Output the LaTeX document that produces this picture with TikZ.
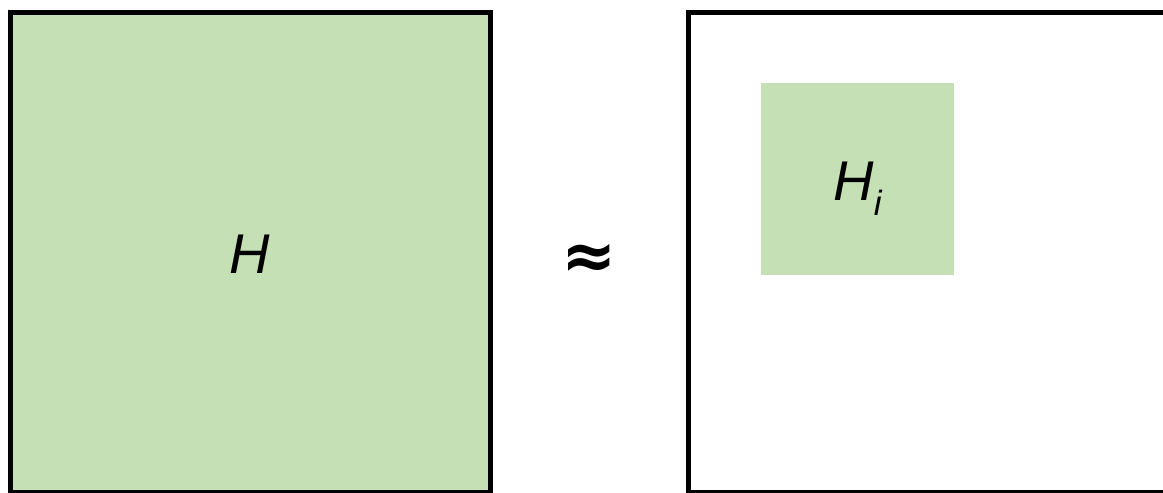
\documentclass[tikz,border=0pt]{standalone}
\usepackage{fontspec}
\setmainfont{Liberation Sans}
\newfontfamily\symfont{DejaVu Sans}
\definecolor{lightgreen}{HTML}{C5E0B4}
\begin{document}
\begin{tikzpicture}[x=1pt,y=-1pt,
  frame/.style={draw=black,line width=5pt,outer sep=0pt,inner sep=0pt,anchor=north west},
  lbl/.style={font=\fontsize{56}{60}\selectfont\itshape,inner sep=0pt,anchor=base}]
\useasboundingbox (0,0) rectangle (1163,493);
\clip (0,0) rectangle (1163,493);
\fill[white] (0,0) rectangle (1163,493);
\node[frame,fill=lightgreen,minimum width=480pt,minimum height=480pt] (big) at (10.5,12.5) {};
\node[lbl] (hlabel) at (250,273) {H};
\node[font=\symfont\bfseries\fontsize{66}{70}\selectfont,inner sep=0pt] (approx) at (589,261) {≈};
\node[frame,minimum width=500pt,minimum height=480pt] (right) at (688.5,12.5) {};
\node[fill=lightgreen,minimum width=193pt,minimum height=192pt,anchor=north west,inner sep=0pt,outer sep=0pt] (small) at (761,83) {};
\node[lbl] (hilabel) at (857.5,200) {H\raisebox{-15pt}{\fontsize{35}{35}\selectfont i}};
\end{tikzpicture}
\end{document}
